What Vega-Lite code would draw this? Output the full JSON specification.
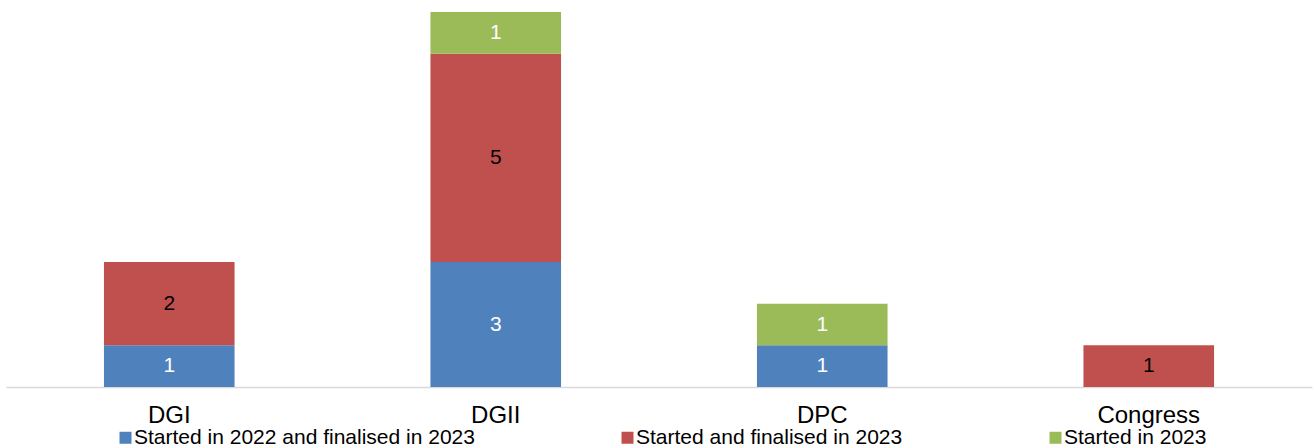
{
  "$schema": "https://vega.github.io/schema/vega-lite/v6.json",
  "autosize": "none",
  "width": 1306,
  "height": 375,
  "padding": {"left": 6, "top": 12, "right": 2, "bottom": 61},
  "background": "white",
  "config": {
    "view": {"stroke": null},
    "font": "Liberation Sans"
  },
  "data": {
    "values": [
      {"body": "DGI", "status": "Started in 2022 and finalised in 2023", "o": 1, "count": 1},
      {"body": "DGI", "status": "Started and finalised in 2023", "o": 2, "count": 2},
      {"body": "DGII", "status": "Started in 2022 and finalised in 2023", "o": 1, "count": 3},
      {"body": "DGII", "status": "Started and finalised in 2023", "o": 2, "count": 5},
      {"body": "DGII", "status": "Started in 2023", "o": 3, "count": 1},
      {"body": "DPC", "status": "Started in 2022 and finalised in 2023", "o": 1, "count": 1},
      {"body": "DPC", "status": "Started in 2023", "o": 3, "count": 1},
      {"body": "Congress", "status": "Started and finalised in 2023", "o": 2, "count": 1}
    ]
  },
  "encoding": {
    "x": {
      "field": "body",
      "type": "nominal",
      "sort": ["DGI", "DGII", "DPC", "Congress"],
      "scale": {"paddingInner": 0.6, "paddingOuter": 0.3},
      "axis": {
        "title": null,
        "labelAngle": 0,
        "labelFontSize": 24,
        "labelColor": "black",
        "labelPadding": 16,
        "ticks": false,
        "domainColor": "#d9d9d9",
        "domainWidth": 1.5,
        "grid": false
      }
    }
  },
  "layer": [
    {
      "mark": {"type": "bar"},
      "encoding": {
        "y": {
          "field": "count",
          "type": "quantitative",
          "stack": "zero",
          "scale": {"domain": [0, 9], "nice": false},
          "axis": null
        },
        "order": {"field": "o", "type": "quantitative"},
        "color": {
          "field": "status",
          "type": "nominal",
          "scale": {
            "domain": ["Started in 2022 and finalised in 2023", "Started and finalised in 2023", "Started in 2023"],
            "range": ["#4F81BD", "#C0504D", "#9BBB59"]
          },
          "legend": {
            "title": null,
            "orient": "none",
            "legendX": 109,
            "legendY": 415,
            "direction": "horizontal",
            "columns": 3,
            "columnPadding": 142,
            "padding": 0,
            "symbolType": "square",
            "symbolSize": 144,
            "symbolStrokeWidth": 0,
            "symbolOffset": 0,
            "labelFontSize": 21,
            "labelColor": "black",
            "labelOffset": -2,
            "labelLimit": 500
          }
        }
      }
    },
    {
      "transform": [
        {"stack": "count", "groupby": ["body"], "sort": [{"field": "o", "order": "ascending"}], "as": ["y0", "y1"]},
        {"calculate": "(datum.y0 + datum.y1) / 2", "as": "ymid"}
      ],
      "mark": {"type": "text", "fontSize": 21, "baseline": "middle", "align": "center"},
      "encoding": {
        "y": {"field": "ymid", "type": "quantitative", "scale": {"domain": [0, 9], "nice": false}, "axis": null},
        "text": {"field": "count", "type": "quantitative"},
        "color": {
          "condition": {"test": "datum.status === 'Started and finalised in 2023'", "value": "black"},
          "value": "white"
        }
      }
    }
  ]
}
